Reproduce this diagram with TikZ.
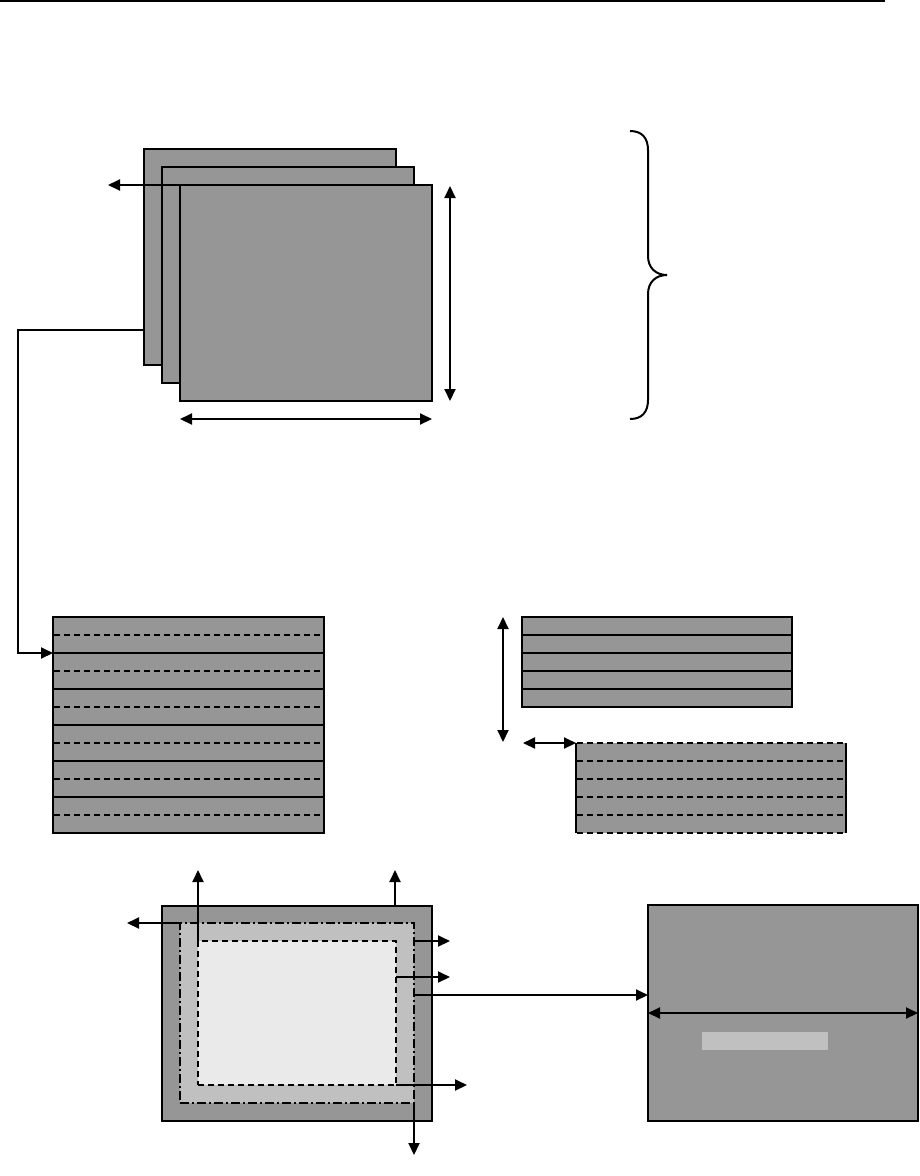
\documentclass[tikz,border=0pt]{standalone}
\usetikzlibrary{arrows.meta,calc}
\definecolor{gA}{RGB}{150,150,150}
\definecolor{gB}{RGB}{192,192,192}
\definecolor{gC}{RGB}{234,234,234}
\tikzset{
 panel/.style={draw=black, fill=gA, line width=2pt, inner sep=0pt, outer sep=0pt, anchor=north west},
 flat/.style={inner sep=0pt, outer sep=0pt, anchor=north west},
 arr/.style={line width=2pt, -{Triangle[length=12pt,width=11pt]}},
 darr/.style={line width=2pt, {Triangle[length=12pt,width=11pt]}-{Triangle[length=12pt,width=11pt]}},
 rowsolid/.style={line width=1.6pt},
 rowdash/.style={line width=1.5pt, dash pattern=on 6pt off 4pt},
 dashdot/.style={line width=1.5pt, dash pattern=on 9pt off 3pt on 2pt off 3pt},
}
\begin{document}
\begin{tikzpicture}[x=1pt,y=-1pt]
\useasboundingbox (0,0) rectangle (919,1176);
% header rule
\draw[line width=2pt] (0,1) -- (885,1);

% stacked frames
\node[panel, minimum width=252, minimum height=216] (back) at (144,149) {};
\node[panel, minimum width=252, minimum height=216] (mid) at (162,167) {};
\node[panel, minimum width=252, minimum height=216] (front) at (180,185) {};
\draw[darr] ($(front.north east)+(18,1)$) -- ($(front.south east)+(18,0)$);
\draw[darr] ($(front.south west)+(0,18)$) -- ($(front.south east)+(0,18)$);
\coordinate (lt) at (108,185);
\draw[arr] (front.north west) -- (lt);

% brace
\draw[line width=2pt] (630,131) .. controls (642,131) and (648,138) .. (648,150) -- (648,256)
  .. controls (648,268) and (656,275) .. (667,275)
  .. controls (656,275) and (648,282) .. (648,294) -- (648,400)
  .. controls (648,412) and (642,419) .. (630,419);

% table 1
\node[panel, minimum width=271, minimum height=216] (t1) at (53,617) {};
\foreach \yy in {635,671,707,743,779,815} \draw[rowdash] (54,\yy) -- (323,\yy);
\foreach \yy in {653,689,725,761,797} \draw[rowsolid] (54,\yy) -- (323,\yy);
\draw[line width=1.6pt, arr] ($(back.north west)+(0,181)$) -| (18,653) -- ($(t1.north west)+(0,36)$);

% table 2
\node[panel, minimum width=270, minimum height=90] (t2) at (522,617) {};
\foreach \yy in {635,653,671,689} \draw[rowsolid] (523,\yy) -- (791,\yy);
\coordinate (t2b) at (503,742);
\draw[darr] (503,617) -- (t2b);

% table 3
\node[flat, fill=gA, minimum width=270, minimum height=90] (t3) at (576,743) {};
\draw[line width=2pt] (t3.north west) -- (t3.south west);
\draw[line width=2pt] (t3.north east) -- (t3.south east);
\foreach \yy in {743,761,779,797,815,833} \draw[rowdash] (577,\yy) -- (845,\yy);
\coordinate (t3l) at (523,743);
\draw[darr] (t3l) -- (t3.north west);

% bottom-left nested frames
\node[panel, minimum width=270, minimum height=215] (outer) at (162,906) {};
\node[flat, fill=gB, draw=black, dashdot, minimum width=234, minimum height=180] (midr) at (180,923) {};
\node[flat, fill=gC, draw=black, line width=1.6pt, dash pattern=on 6pt off 4pt, minimum width=198, minimum height=144] (inner) at (198,941) {};

\coordinate (u1) at (198,870);
\coordinate (u2) at (395,870);
\coordinate (l1) at (127,923);
\coordinate (r1) at (450,941);
\coordinate (r2) at (450,977);
\coordinate (r3) at (467,1085);
\coordinate (d1) at (414,1155);
\draw[arr] (inner.north west) -- (u1);
\draw[arr] (395,906) -- (u2);
\draw[arr] (midr.north west) -- (l1);
\draw[arr] ($(midr.north east)+(0,18)$) -- (r1);
\draw[arr] ($(inner.north east)+(0,36)$) -- (r2);
\draw[arr] (inner.south east) -- (r3);
\draw[arr] (midr.south east) -- (d1);

% right panel
\node[panel, minimum width=270, minimum height=216] (R) at (648,905) {};
\node[flat, fill=gB, minimum width=126, minimum height=18] (bar) at (702,1032) {};
\draw[darr] ($(R.north west)+(0,108)$) -- ($(R.north east)+(0,108)$);
\draw[line width=1.6pt, arr] ($(midr.north east)+(0,72)$) -- ($(R.north west)+(0,90)$);
\end{tikzpicture}
\end{document}
